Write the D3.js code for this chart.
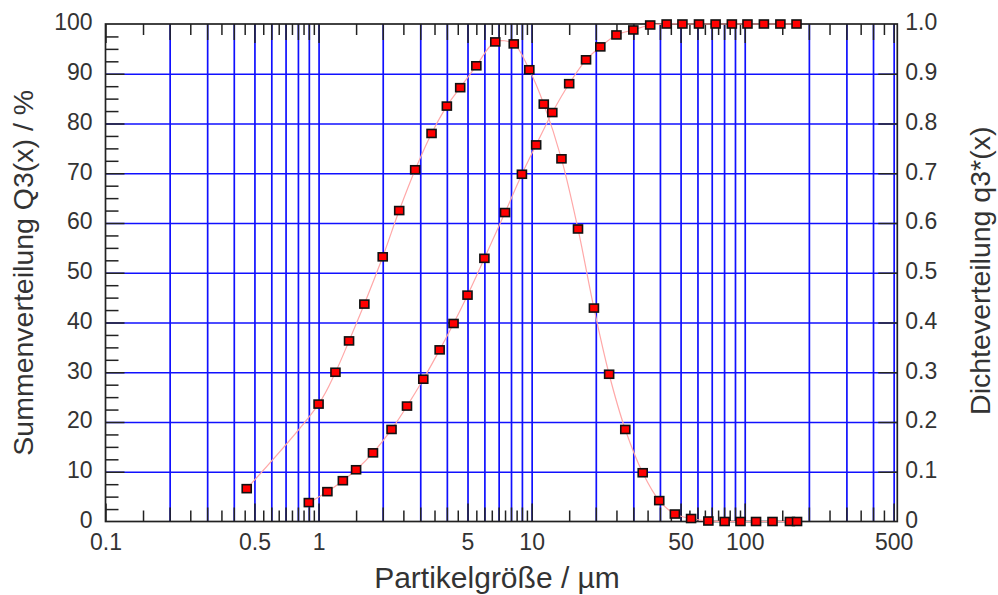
<!DOCTYPE html>
<html>
<head>
<meta charset="utf-8">
<script src="https://cdn.jsdelivr.net/npm/d3@7"></script>
<style>
  body { margin: 0; background: #fff; }
  text { font-family: "Liberation Sans", Arial, Helvetica, sans-serif; }
</style>
</head>
<body>
<script>
// Summenverteilung Q3 (%) at the class upper bounds (µm)
var cumX  = [0.9, 1.1, 1.3, 1.5, 1.8, 2.2, 2.6, 3.1, 3.7, 4.3,
             5.0, 6.0, 7.5, 9.0, 10.5, 12.5, 15, 18, 21, 25,
             30, 36, 43, 51, 61, 73, 87, 103, 123, 147, 175];
var cumQ3 = [3.8, 6.0, 8.2, 10.4, 13.8, 18.5, 23.2, 28.6, 34.5, 39.8,
             45.5, 52.9, 62.1, 69.8, 75.7, 82.2, 88.0, 92.8, 95.4, 97.8,
             98.8, 99.8, 100, 100, 100, 100, 100, 100, 100, 100, 100];

// Dichteverteilung q3* at the class centres (µm)
var denX  = [0.46, 1.0, 1.2, 1.39, 1.64, 2.0, 2.39, 2.84, 3.39, 4.0,
             4.62, 5.5, 6.75, 8.24, 9.75, 11.4, 13.8, 16.5, 19.6, 23.1,
             27.5, 33.2, 39.7, 47, 56, 67.5, 80.5, 95.5, 113, 135, 163, 176];
var denQ3 = [0.066, 0.236, 0.300, 0.363, 0.437, 0.532, 0.625, 0.707, 0.780, 0.835,
             0.872, 0.916, 0.964, 0.960, 0.908, 0.839, 0.729, 0.588, 0.429, 0.296,
             0.185, 0.098, 0.042, 0.015, 0.006, 0.001, 0, 0, 0, 0, 0, 0];

var xLabelVals  = [0.1, 0.5, 1, 5, 10, 50, 100, 500];
var xLabelText  = ["0.1", "0.5", "1", "5", "10", "50", "100", "500"];
var yLeftLabels = [0, 10, 20, 30, 40, 50, 60, 70, 80, 90, 100];
var yRightLabels = [0, 0.1, 0.2, 0.3, 0.4, 0.5, 0.6, 0.7, 0.8, 0.9, 1.0];

var W = 998, H = 595;
var plot = {left: 105.5, right: 897.3, top: 24, bottom: 521.5};
var blue = "#1010ff", ink = "#222", labelCol = "#333";

var x  = d3.scaleLog().domain([0.1, 520]).range([plot.left, plot.right]);
var y  = d3.scaleLinear().domain([0, 100]).range([plot.bottom, plot.top]);
var y2 = d3.scaleLinear().domain([0, 1]).range([plot.bottom, plot.top]);

// log tick classes: decades and 5s long, integers mid, halves short
var xLong = [], xMid = [], xShort = [];
[0.1, 1, 10, 100].forEach(function(d) {
  for (var m = 1; m < 10; m += 0.5) {
    var v = +(m * d).toPrecision(6);
    if (v > 520) continue;
    if (m === 1 || m === 5) xLong.push(v);
    else if (m % 1 === 0) xMid.push(v);
    else xShort.push(v);
  }
});
var xGrid = xLong.concat(xMid).filter(function(v) { return v > 0.1; });
var yGrid = d3.range(10, 100, 10);
var yMinor = d3.range(0, 100.1, 2.5).filter(function(v) { return v % 10 !== 0; });

var svg = d3.select("body").append("svg")
    .attr("width", W)
    .attr("height", H);

function clean(g) { g.select(".domain").remove(); }

// blue grid
svg.append("g")
    .attr("transform", "translate(0," + plot.bottom + ")")
    .call(d3.axisBottom(x).tickValues(xGrid).tickSize(-(plot.bottom - plot.top)).tickFormat(""))
    .call(clean)
    .selectAll("line").attr("stroke", blue).attr("stroke-width", 1.7);
svg.append("g")
    .attr("transform", "translate(" + plot.left + ",0)")
    .call(d3.axisLeft(y).tickValues(yGrid).tickSize(-(plot.right - plot.left)).tickFormat(""))
    .call(clean)
    .selectAll("line").attr("stroke", blue).attr("stroke-width", 1.7);

// black tick marks, all pointing inward
function ticks(axis, tr) {
  svg.append("g")
      .attr("transform", tr)
      .call(axis.tickFormat(""))
      .call(clean)
      .selectAll("line").attr("stroke", ink).attr("stroke-width", 1.5);
}
var bt = "translate(0," + plot.bottom + ")", tt = "translate(0," + plot.top + ")";
ticks(d3.axisBottom(x).tickValues(xLong).tickSize(-18), bt);
ticks(d3.axisBottom(x).tickValues(xMid).tickSize(-14), bt);
ticks(d3.axisBottom(x).tickValues(xShort).tickSize(-11), bt);
ticks(d3.axisTop(x).tickValues(xLong).tickSize(-19), tt);
ticks(d3.axisTop(x).tickValues(xMid).tickSize(-16), tt);
ticks(d3.axisTop(x).tickValues(xShort).tickSize(-11), tt);
ticks(d3.axisLeft(y).tickValues(yGrid).tickSize(-19), "translate(" + plot.left + ",0)");
ticks(d3.axisLeft(y).tickValues(yMinor).tickSize(-13), "translate(" + plot.left + ",0)");
ticks(d3.axisRight(y2).tickValues(d3.range(0.1, 0.95, 0.1)).tickSize(-19), "translate(" + plot.right + ",0)");

// frame
svg.append("rect")
    .attr("x", plot.left).attr("y", plot.top)
    .attr("width", plot.right - plot.left)
    .attr("height", plot.bottom - plot.top)
    .attr("fill", "none").attr("stroke", ink).attr("stroke-width", 1.7);

// tick labels
function labels(g) {
  g.call(clean);
  g.selectAll("text")
      .attr("fill", labelCol)
      .style("font-size", "23px")
      .style("font-family", "'Liberation Sans', Arial, sans-serif");
}
svg.append("g")
    .attr("transform", bt)
    .call(d3.axisBottom(x).tickValues(xLabelVals).tickSize(0).tickPadding(12)
      .tickFormat(function(d, i) { return xLabelText[i]; }))
    .call(labels);
svg.append("g")
    .attr("transform", "translate(" + plot.left + ",0)")
    .call(d3.axisLeft(y).tickValues(yLeftLabels).tickSize(0).tickPadding(13).tickFormat(d3.format("d")))
    .call(labels)
    .selectAll("text").attr("dy", "0.26em");
svg.append("g")
    .attr("transform", "translate(" + plot.right + ",0)")
    .call(d3.axisRight(y2).tickValues(yRightLabels).tickSize(0).tickPadding(8)
      .tickFormat(function(d) { return d === 0 ? "0" : d3.format(".1f")(d); }))
    .call(labels)
    .selectAll("text").attr("dy", "0.26em");

// axis titles
svg.append("text")
    .attr("x", 497).attr("y", 588)
    .attr("text-anchor", "middle")
    .attr("fill", labelCol)
    .style("font-size", "30px")
    .text("Partikelgröße / µm");
svg.append("text")
    .attr("transform", "translate(33," + ((plot.top + plot.bottom) / 2) + ") rotate(-90)")
    .attr("text-anchor", "middle")
    .attr("fill", labelCol)
    .style("font-size", "28.5px")
    .text("Summenverteilung Q3(x) / %");
svg.append("text")
    .attr("transform", "translate(990," + ((plot.top + plot.bottom) / 2 - 2) + ") rotate(-90)")
    .attr("text-anchor", "middle")
    .attr("fill", labelCol)
    .style("font-size", "28.5px")
    .text("Dichteverteilung q3*(x)");

// smoothed connecting curves
var cumPts = cumX.map(function(v, i) { return [v, cumQ3[i]]; });
var denPts = denX.map(function(v, i) { return [v, denQ3[i] * 100]; });

var line = d3.line()
    .x(function(d) { return x(d[0]); })
    .y(function(d) { return y(d[1]); })
    .curve(d3.curveCatmullRom.alpha(0.5));

[cumPts, denPts].forEach(function(pts) {
  svg.append("path")
      .attr("d", line(pts))
      .attr("fill", "none")
      .attr("stroke", "#ffa8a8")
      .attr("stroke-width", 1.2);
});

// square markers
[cumPts, denPts].forEach(function(pts) {
  svg.append("g").selectAll("rect")
      .data(pts)
      .enter()
      .append("rect")
      .attr("x", function(d) { return x(d[0]) - 4.5; })
      .attr("y", function(d) { return y(d[1]) - 4; })
      .attr("width", 9)
      .attr("height", 8)
      .attr("fill", "#ff0000")
      .attr("stroke", "#111")
      .attr("stroke-width", 1.6);
});
</script>
</body>
</html>
